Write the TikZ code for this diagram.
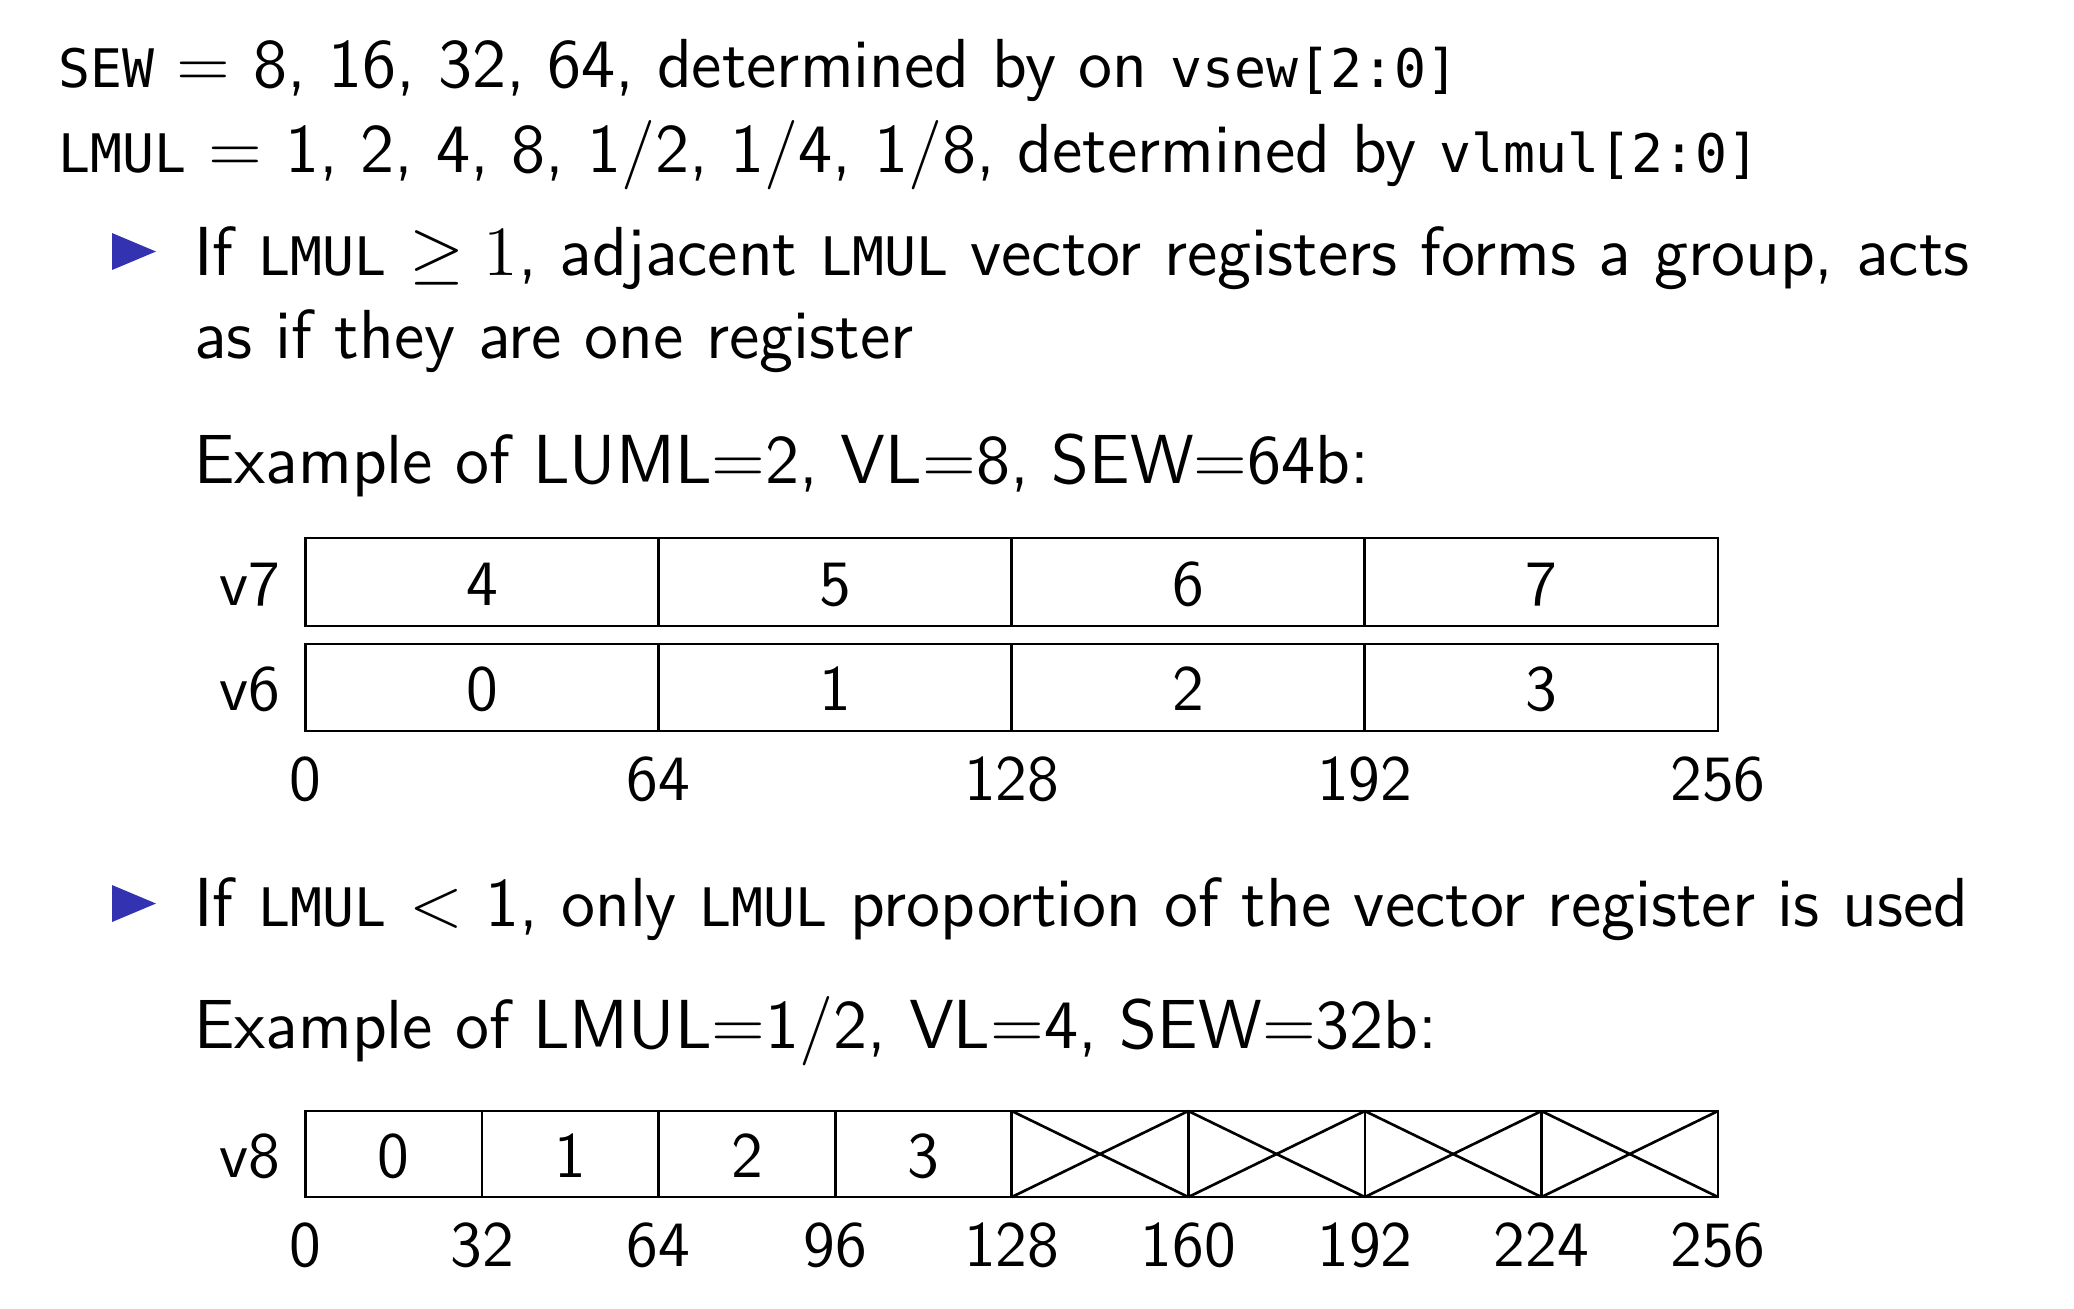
\documentclass[tikz,border=0pt]{standalone}
\usepackage{fontspec}
\setmonofont[Scale=0.765]{DejaVu Sans Mono}
\definecolor{structblue}{RGB}{51,51,178}
\begin{document}
\begin{tikzpicture}[x=0.17pt,y=-0.17pt,
  txt/.style={anchor=base west,inner sep=0pt,font=\fontsize{11.8}{14.4}\selectfont\sffamily},
  num/.style={anchor=base,inner sep=0pt,font=\fontsize{11}{13.6}\selectfont\sffamily},
  reglabel/.style={anchor=base east,inner sep=0pt,font=\fontsize{11}{13.6}\selectfont\sffamily},
  cellline/.style={draw=black,line width=0.45pt},
  bullet/.style={fill=structblue,draw=none}]
\useasboundingbox (0,0) rectangle (2074,1308);

% header lines
\node[txt] (sew) at (57,87) {\texttt{SEW} $=$ 8, 16, 32, 64, determined by on \texttt{vsew[2:0]}};
\node[txt] (lmul) at (57,172) {\texttt{LMUL} $=$ 1, 2, 4, 8, 1/2, 1/4, 1/8, determined by \texttt{vlmul[2:0]}};

% first item
\fill[bullet] (112,233) -- (156,251.5) -- (112,270) -- cycle;
\node[txt] (itemA) at (193,275) {If \texttt{LMUL} $\geq 1$, adjacent \texttt{LMUL} vector registers forms a group, acts};
\node[txt] (itemAb) at (193,358) {as if they are one register};
\node[txt] (exA) at (193,483) {Example of LUML$=$2, VL$=$8, SEW$=$64b:};

% register group v7/v6: four 64-bit elements each
\foreach \row/\top/\bot/\name/\base in {0/538/626/v7/4, 1/644/731/v6/0}{
  \draw[cellline] (305.5,\top) rectangle (1718,\bot);
  \foreach \k in {1,2,3}
    \draw[cellline] ({305.5+\k*353.1},\top) -- ({305.5+\k*353.1},\bot);
  \foreach \k in {0,1,2,3}{
    \pgfmathtruncatemacro{\val}{\base+\k}
    \node[num] (\name-\k) at ({305.5+(\k+0.5)*353.1},{(\top+\bot)/2+23}) {\val};
  }
  \node[reglabel] (lab-\name) at (281,{(\top+\bot)/2+23}) {\name};
}
\foreach \k/\t in {0/0,1/64,2/128,3/192,4/256}
  \node[num] (tickA-\k) at ({305.5+\k*353.1},800) {\t};

% second item
\fill[bullet] (112,885) -- (156,903.5) -- (112,922) -- cycle;
\node[txt] (itemB) at (193,926) {If \texttt{LMUL} $<$ 1, only \texttt{LMUL} proportion of the vector register is used};
\node[txt] (exB) at (193,1048) {Example of LMUL$=$1/2, VL$=$4, SEW$=$32b:};

% register v8: eight 32-bit slots, upper half unused
\draw[cellline] (305.5,1111) rectangle (1718,1197);
\foreach \k in {1,...,7}
  \draw[cellline] ({305.5+\k*176.56},1111) -- ({305.5+\k*176.56},1197);
\foreach \k in {0,1,2,3}
  \node[num] (v8-\k) at ({305.5+(\k+0.5)*176.56},1177) {\k};
\foreach \k in {4,5,6,7}{
  \draw[cellline] ({305.5+\k*176.56},1111) -- ({305.5+(\k+1)*176.56},1197);
  \draw[cellline] ({305.5+\k*176.56},1197) -- ({305.5+(\k+1)*176.56},1111);
}
\node[reglabel] (lab-v8) at (281,1177) {v8};
\foreach \k/\t in {0/0,1/32,2/64,3/96,4/128,5/160,6/192,7/224,8/256}
  \node[num] (tickB-\k) at ({305.5+\k*176.56},1266) {\t};
\end{tikzpicture}
\end{document}
